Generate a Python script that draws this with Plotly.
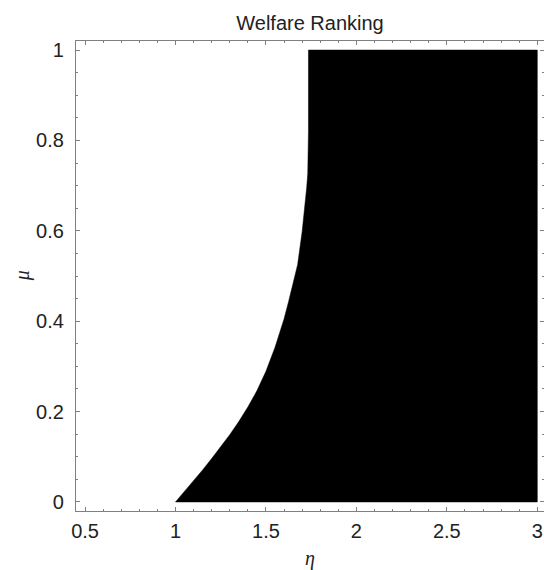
import plotly.graph_objects as go

# Boundary of the black region (eta, mu pairs)
boundary_eta = [1.0, 1.05, 1.1, 1.15, 1.2, 1.25, 1.3, 1.35, 1.4, 1.45, 1.5,
                1.55, 1.6, 1.625, 1.65, 1.675, 1.7, 1.715, 1.725, 1.731,
                1.734, 1.735, 1.735]
boundary_mu = [0.0, 0.023, 0.047, 0.071, 0.096, 0.122, 0.149, 0.178, 0.21,
               0.246, 0.289, 0.342, 0.405, 0.443, 0.482, 0.525, 0.598, 0.65,
               0.695, 0.726, 0.763, 0.82, 1.0]
eta_max = 3.0
mu_min, mu_max = 0.0, 1.0

x_ticks = [0.5, 1, 1.5, 2, 2.5, 3]
x_ticklabels = ["0.5", "1", "1.5", "2", "2.5", "3"]
y_ticks = [0, 0.2, 0.4, 0.6, 0.8, 1]
y_ticklabels = ["0", "0.2", "0.4", "0.6", "0.8", "1"]

region_x = boundary_eta + [eta_max, eta_max, boundary_eta[0]]
region_y = boundary_mu + [mu_max, mu_min, mu_min]

fig = go.Figure()
fig.add_trace(go.Scatter(x=region_x, y=region_y, mode="lines", fill="toself",
                         fillcolor="black", line=dict(color="black", width=0.5),
                         hoverinfo="skip", showlegend=False))

frame = "#808080"
txt = "#222222"
axis_common = dict(showgrid=False, zeroline=False, showline=True, linecolor=frame,
                   linewidth=1.3, mirror="allticks", ticks="inside", ticklen=4,
                   tickcolor=frame, tickwidth=1, automargin=False,
                   ticklabeloverflow="allow",
                   tickfont=dict(family="Liberation Sans, Arial", size=20, color=txt))

fig.update_xaxes(range=[0.45, 3.037], tickvals=x_ticks, ticktext=x_ticklabels,
                 minor=dict(dtick=0.1, ticklen=2, ticks="inside", tickcolor=frame),
                 ticklabelstandoff=2, **axis_common)
fig.update_yaxes(range=[-0.02, 1.02], tickvals=y_ticks, ticktext=y_ticklabels,
                 minor=dict(dtick=0.05, ticklen=2, ticks="inside", tickcolor=frame),
                 ticklabelstandoff=7, **axis_common)

W, H = 544, 570
fig.update_layout(
    width=W, height=H,
    margin=dict(l=76, r=0, t=41, b=59),
    plot_bgcolor="white", paper_bgcolor="white",
    title=dict(text="Welfare Ranking", xref="paper", x=0.5, xanchor="center",
               yref="container", y=1 - 22.6 / H, yanchor="middle",
               font=dict(family="Liberation Sans, Arial", size=20, color=txt)),
    annotations=[
        dict(text="<i>η</i>", xref="paper", yref="paper", x=0.5, y=-0.1,
             showarrow=False, xanchor="center", yanchor="middle",
             font=dict(family="Liberation Serif, Times New Roman", size=20, color=txt)),
        dict(text="<i>μ</i>", xref="paper", yref="paper", x=-0.115, y=0.5,
             showarrow=False, xanchor="center", yanchor="middle", textangle=-90,
             font=dict(family="Liberation Serif, Times New Roman", size=20, color=txt)),
    ],
)

fig.write_html(
    "out.html",
    config={"displayModeBar": False},
    post_script="document.body.style.margin='0';document.body.style.overflow='hidden';",
)
